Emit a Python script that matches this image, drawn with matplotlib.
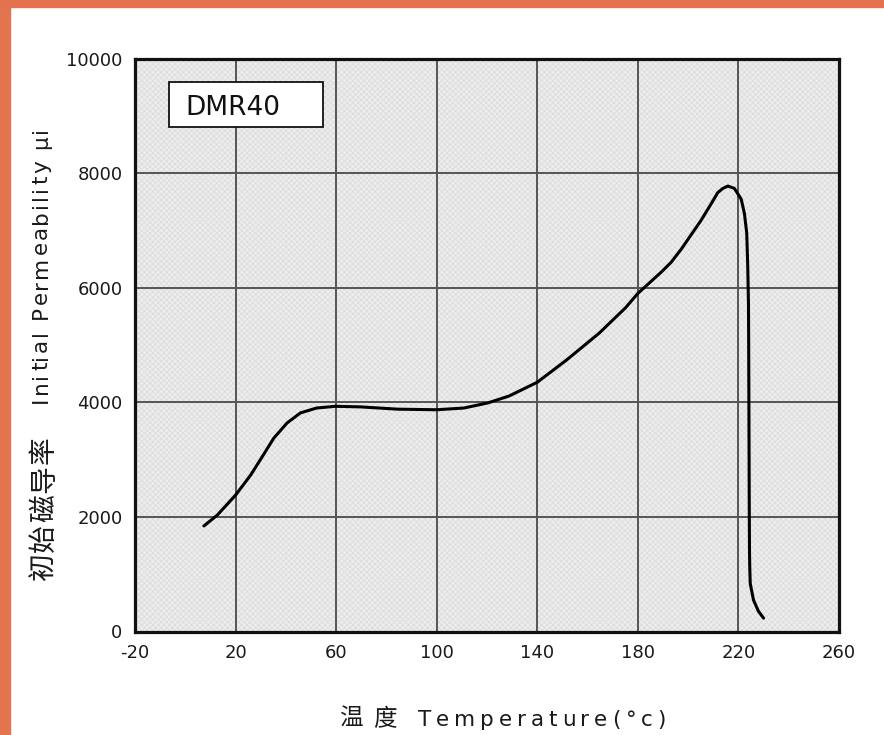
import numpy as np
import matplotlib.pyplot as plt
from matplotlib.patches import Rectangle

# temperature (°C) vs initial permeability
temp = [7.4, 12.7, 20, 26, 30.6, 35.2, 40.5, 45.8, 52.2, 59.7, 69.7, 84.5, 100, 110.8,
        120.4, 128.8, 140, 151.7, 164.7, 175.1, 180, 184, 189.3, 193.2, 197.2, 201.2,
        205.2, 209.1, 211.8, 213.8, 215.8, 218.4, 221.1, 222.4, 223.3, 223.7, 224, 224.1,
        224.3, 224.4, 224.5, 224.7, 226, 228, 230]
mu = [1842, 2030, 2380, 2730, 3050, 3375, 3640, 3815, 3900, 3930, 3920, 3880, 3870, 3900,
      3990, 4110, 4350, 4740, 5210, 5650, 5900, 6060, 6272, 6442, 6669, 6924,
      7179, 7461, 7660, 7733, 7774, 7733, 7546, 7291, 6952, 6386, 5706, 4764,
      2277, 1412, 1130, 836, 548, 350, 233]

xticks = [-20, 20, 60, 100, 140, 180, 220, 260]
yticks = [0, 2000, 4000, 6000, 8000, 10000]
material = "DMR40"
xlabel_cn = "温度"
xlabel_en = "Temperature(°c)"
ylabel_cn = "初始磁导率"
ylabel_en = "Initial Permeability μi"

W, H = 884, 735
FAM = ['DejaVu Sans', 'Noto Sans CJK SC']
plt.rcParams['axes.unicode_minus'] = False
plt.rcParams['hatch.linewidth'] = 0.6

fig = plt.figure(figsize=(W / 100, H / 100), dpi=100)
fig.patch.set_facecolor('white')

# orange frame strips (left and top)
fig.add_artist(Rectangle((0, 0), 10 / W, 1, transform=fig.transFigure, color='#e27450', zorder=0))
fig.add_artist(Rectangle((0, 1 - 7 / H), 1, 7 / H, transform=fig.transFigure, color='#e47250', zorder=0))

ax = fig.add_axes([135 / W, 1 - 631.5 / H, 704 / W, 573 / H])
ax.set_facecolor('#ededed')
ax.add_patch(Rectangle((0, 0), 1, 1, transform=ax.transAxes, facecolor='none',
                       edgecolor='#dcdcdc', hatch='xxxxxx', lw=0, zorder=0))

ax.plot(temp, mu, color='black', lw=2.2, solid_joinstyle='round', solid_capstyle='round', zorder=3)

ax.set_xlim(-20, 260)
ax.set_ylim(0, 10000)
ax.set_xticks(xticks)
ax.set_yticks(yticks)
ax.grid(True, color='#555555', lw=1.4)
ax.set_axisbelow(True)
for s in ax.spines.values():
    s.set_linewidth(2.3)
    s.set_color('#111111')
ax.tick_params(axis='both', length=0, labelsize=13, labelcolor='#1a1a1a')
ax.tick_params(axis='y', pad=9)
ax.tick_params(axis='x', pad=9)

# box with material name
ax.add_patch(Rectangle((0.0483, 0.880), 0.219, 0.079, transform=ax.transAxes,
                       facecolor='white', edgecolor='#111111', lw=1.3, zorder=4))
ax.text(0.071, 0.919, material, transform=ax.transAxes, fontsize=19, ha='left',
        va='center_baseline', color='#111111', zorder=5)


def spread(s, p0, p1, base, size, vertical=False):
    # lay out characters one by one so the string fills p0..p1 (pixels)
    r = fig.canvas.get_renderer()
    items = []
    for ch in s:
        if ch == ' ':
            items.append((None, 0.32 * size * 100 / 72))
            continue
        t = fig.text(0, 0, ch, fontsize=size, family=FAM, color='#1a1a1a',
                     rotation=90 if vertical else 0, rotation_mode='anchor',
                     ha='left', va='baseline')
        bb = t.get_window_extent(r)
        items.append((t, bb.height if vertical else bb.width))
    total = sum(w for _, w in items)
    gap = (abs(p1 - p0) - total) / max(len(items) - 1, 1)
    pos = p0
    for t, w in items:
        if t is not None:
            if vertical:
                t.set_position((base / W, 1 - pos / H))
            else:
                t.set_position((pos / W, 1 - base / H))
        pos = pos - (w + gap) if vertical else pos + (w + gap)


fig.canvas.draw()
spread(xlabel_cn, 339, 397, 726, 17)
spread(xlabel_en, 418, 666, 726, 15.5)
spread(ylabel_cn, 581, 436, 52, 20, vertical=True)
spread(ylabel_en, 403, 127, 47, 15.5, vertical=True)

fig.savefig('out.png', dpi=100)
